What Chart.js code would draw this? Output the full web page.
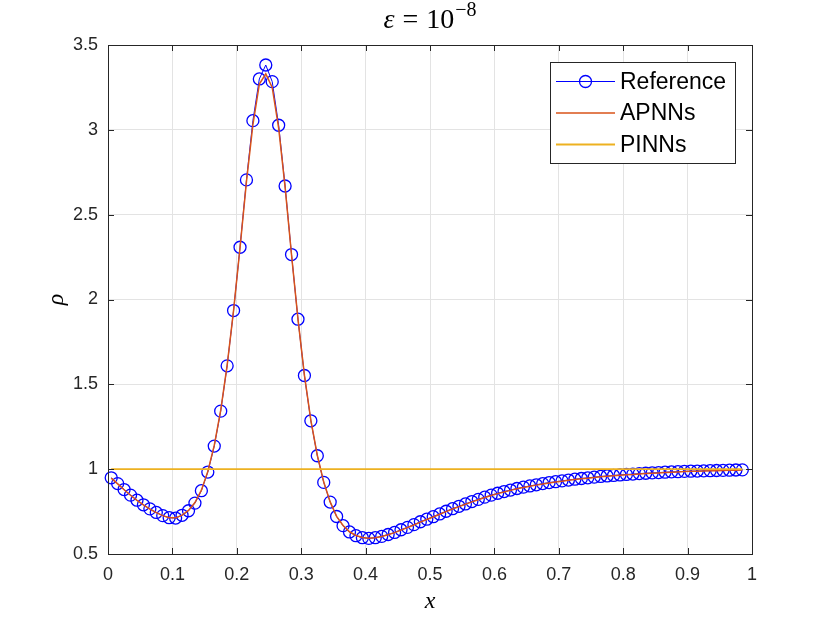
<!DOCTYPE html>
<html>
<head>
<meta charset="utf-8">
<script src="https://cdn.jsdelivr.net/npm/chart.js@4"></script>
<style>
    html, body { margin: 0; padding: 0; background: #fff; }
</style>
</head>
<body>
<canvas id="rhoChart" width="830" height="623"></canvas>
<script>
// grid points (cell centres)
var xGrid = [
    0.005, 0.015, 0.025, 0.035, 0.045, 0.055, 0.065, 0.075, 0.085, 0.095,
    0.105, 0.115, 0.125, 0.135, 0.145, 0.155, 0.165, 0.175, 0.185, 0.195,
    0.205, 0.215, 0.225, 0.235, 0.245, 0.255, 0.265, 0.275, 0.285, 0.295,
    0.305, 0.315, 0.325, 0.335, 0.345, 0.355, 0.365, 0.375, 0.385, 0.395,
    0.405, 0.415, 0.425, 0.435, 0.445, 0.455, 0.465, 0.475, 0.485, 0.495,
    0.505, 0.515, 0.525, 0.535, 0.545, 0.555, 0.565, 0.575, 0.585, 0.595,
    0.605, 0.615, 0.625, 0.635, 0.645, 0.655, 0.665, 0.675, 0.685, 0.695,
    0.705, 0.715, 0.725, 0.735, 0.745, 0.755, 0.765, 0.775, 0.785, 0.795,
    0.805, 0.815, 0.825, 0.835, 0.845, 0.855, 0.865, 0.875, 0.885, 0.895,
    0.905, 0.915, 0.925, 0.935, 0.945, 0.955, 0.965, 0.975, 0.985
];

var rhoReference = [
    0.949, 0.915, 0.880, 0.847, 0.817, 0.790, 0.766, 0.745, 0.726, 0.714,
    0.712, 0.728, 0.755, 0.800, 0.873, 0.983, 1.136, 1.342, 1.609, 1.935,
    2.308, 2.705, 3.054, 3.300, 3.382, 3.284, 3.027, 2.669, 2.265, 1.884,
    1.552, 1.285, 1.079, 0.922, 0.806, 0.721, 0.667, 0.630, 0.608, 0.596,
    0.592, 0.596, 0.604, 0.615, 0.627, 0.643, 0.657, 0.673, 0.690, 0.705,
    0.720, 0.736, 0.752, 0.767, 0.781, 0.795, 0.809, 0.822, 0.835, 0.847,
    0.858, 0.868, 0.877, 0.886, 0.894, 0.901, 0.908, 0.915, 0.921, 0.926,
    0.931, 0.936, 0.941, 0.945, 0.949, 0.953, 0.957, 0.960, 0.963, 0.966,
    0.969, 0.971, 0.974, 0.976, 0.978, 0.980, 0.982, 0.984, 0.985, 0.987,
    0.988, 0.989, 0.990, 0.991, 0.992, 0.993, 0.994, 0.995, 0.996
];

var rhoAPNNs = [
    0.947, 0.913, 0.879, 0.846, 0.816, 0.789, 0.765, 0.744, 0.726, 0.714,
    0.713, 0.729, 0.757, 0.803, 0.876, 0.987, 1.140, 1.346, 1.612, 1.936,
    2.305, 2.695, 3.030, 3.270, 3.330, 3.250, 3.010, 2.662, 2.262, 1.884,
    1.554, 1.288, 1.082, 0.924, 0.807, 0.722, 0.668, 0.631, 0.609, 0.597,
    0.593, 0.596, 0.603, 0.614, 0.626, 0.641, 0.656, 0.671, 0.688, 0.703,
    0.718, 0.734, 0.750, 0.765, 0.779, 0.793, 0.807, 0.820, 0.833, 0.845,
    0.856, 0.866, 0.875, 0.884, 0.892, 0.899, 0.906, 0.913, 0.919, 0.924,
    0.929, 0.934, 0.939, 0.943, 0.947, 0.951, 0.955, 0.958, 0.961, 0.964,
    0.967, 0.969, 0.972, 0.974, 0.976, 0.978, 0.980, 0.982, 0.984, 0.986,
    0.987, 0.988, 0.989, 0.990, 0.991, 0.992, 0.993, 0.994, 0.995
];

var xPINNs = [0.005, 0.985];
var rhoPINNs = [1.0, 1.0];

var seriesNames = ['Reference', 'APNNs', 'PINNs'];
var xTicks = [0, 0.1, 0.2, 0.3, 0.4, 0.5, 0.6, 0.7, 0.8, 0.9, 1];
var yTicks = [0.5, 1, 1.5, 2, 2.5, 3, 3.5];

var AXIS_COLOR = '#262626';
var SANS = "'Liberation Sans', Arial, sans-serif";
var SERIF = "'Liberation Serif', 'DejaVu Serif', serif";

function toPoints(xs, ys) {
    var pts = [];
    for (var i = 0; i < xs.length; i++) {
        pts.push({ x: xs[i], y: ys[i] });
    }
    return pts;
}

function plainLabel(value) {
    return String(value);
}

// MATLAB style box: ticks pointing inward on all four sides
var boxPlugin = {
    id: 'boxAxes',
    afterDraw: function(chart) {
        var ctx = chart.ctx;
        var area = chart.chartArea;
        var xs = chart.scales.x;
        var ys = chart.scales.y;
        var len = 6;
        ctx.save();
        ctx.strokeStyle = AXIS_COLOR;
        ctx.lineWidth = 1;
        ctx.beginPath();
        xTicks.forEach(function(v) {
            var px = Math.round(xs.getPixelForValue(v)) + 0.5;
            ctx.moveTo(px, area.bottom); ctx.lineTo(px, area.bottom - len);
            ctx.moveTo(px, area.top); ctx.lineTo(px, area.top + len);
        });
        yTicks.forEach(function(v) {
            var py = Math.round(ys.getPixelForValue(v)) + 0.5;
            ctx.moveTo(area.left, py); ctx.lineTo(area.left + len, py);
            ctx.moveTo(area.right, py); ctx.lineTo(area.right - len, py);
        });
        ctx.stroke();
        ctx.strokeRect(Math.round(area.left) + 0.5, Math.round(area.top) + 0.5,
            Math.round(area.right - area.left), Math.round(area.bottom - area.top));
        ctx.restore();
    }
};

// title with superscript exponent
var titlePlugin = {
    id: 'epsTitle',
    afterDraw: function(chart) {
        var ctx = chart.ctx;
        var area = chart.chartArea;
        var cx = (area.left + area.right) / 2;
        var base = 28;
        var parts = [
            { t: '\u03B5', f: 'italic 28px ' + SERIF, dy: 0, gap: 8 },
            { t: '=', f: '28px ' + SERIF, dy: 0, gap: 8 },
            { t: '10', f: '28px ' + SERIF, dy: 0, gap: 1 },
            { t: '\u22128', f: '20px ' + SERIF, dy: -12, gap: 0 }
        ];
        ctx.save();
        var total = 0;
        parts.forEach(function(p) {
            ctx.font = p.f;
            p.w = ctx.measureText(p.t).width;
            total += p.w + p.gap;
        });
        var x = cx - total / 2;
        ctx.fillStyle = '#000';
        ctx.textBaseline = 'alphabetic';
        parts.forEach(function(p) {
            ctx.font = p.f;
            ctx.fillText(p.t, x, base + p.dy);
            x += p.w + p.gap;
        });
        ctx.restore();
    }
};

// boxed legend in the upper right corner of the axes
var legendPlugin = {
    id: 'boxLegend',
    afterDraw: function(chart) {
        var ctx = chart.ctx;
        var left = 550, top = 62, width = 185, height = 101;
        var rowY = [81.5, 113, 144.5];
        ctx.save();
        ctx.fillStyle = '#fff';
        ctx.fillRect(left, top, width, height);
        ctx.strokeStyle = AXIS_COLOR;
        ctx.lineWidth = 1;
        ctx.strokeRect(left + 0.5, top + 0.5, width, height);
        chart.data.datasets.forEach(function(ds, i) {
            var y = rowY[i];
            ctx.strokeStyle = ds.borderColor;
            ctx.lineWidth = ds.borderWidth;
            ctx.beginPath();
            ctx.moveTo(556, y); ctx.lineTo(615, y);
            ctx.stroke();
            if (ds.pointRadius > 0) {
                ctx.lineWidth = ds.pointBorderWidth;
                ctx.beginPath();
                ctx.arc(585.5, y, ds.pointRadius, 0, Math.PI * 2);
                ctx.stroke();
            }
            ctx.fillStyle = '#000';
            ctx.font = '23px ' + SANS;
            ctx.textBaseline = 'middle';
            ctx.fillText(ds.label, 620, y + 1);
        });
        ctx.restore();
    }
};

new Chart(document.getElementById('rhoChart'), {
    type: 'scatter',
    data: {
        datasets: [{
            label: seriesNames[0],
            data: toPoints(xGrid, rhoReference),
            showLine: true,
            borderColor: '#0000ff',
            borderWidth: 1,
            pointRadius: 6,
            pointBorderWidth: 1.3,
            pointBorderColor: '#0000ff',
            pointBackgroundColor: 'rgba(0,0,0,0)',
            pointHoverRadius: 6,
            clip: false,
            order: 3
        }, {
            label: seriesNames[1],
            data: toPoints(xGrid, rhoAPNNs),
            showLine: true,
            borderColor: '#d95319',
            borderWidth: 1.5,
            pointRadius: 0,
            order: 2
        }, {
            label: seriesNames[2],
            data: toPoints(xPINNs, rhoPINNs),
            showLine: true,
            borderColor: '#edb120',
            borderWidth: 1.8,
            pointRadius: 0,
            order: 1
        }]
    },
    options: {
        responsive: false,
        animation: false,
        layout: { padding: { left: 0, right: 78, top: 45, bottom: 0 } },
        plugins: {
            legend: { display: false },
            tooltip: { enabled: false },
            title: { display: false }
        },
        scales: {
            x: {
                type: 'linear',
                min: 0,
                max: 1,
                afterFit: function(scale) { scale.height = 69; },
                afterBuildTicks: function(scale) {
                    scale.ticks = xTicks.map(function(v) { return { value: v }; });
                },
                ticks: {
                    color: AXIS_COLOR,
                    font: { family: SANS, size: 18 },
                    padding: 10,
                    maxRotation: 0,
                    callback: plainLabel
                },
                grid: { color: '#e3e3e3', drawTicks: false },
                border: { display: false },
                title: {
                    display: true,
                    text: 'x',
                    color: '#000',
                    font: { family: SERIF, size: 24, style: 'italic' },
                    padding: { top: 0, bottom: 7 }
                }
            },
            y: {
                type: 'linear',
                min: 0.5,
                max: 3.5,
                afterFit: function(scale) { scale.width = 108; },
                afterBuildTicks: function(scale) {
                    scale.ticks = yTicks.map(function(v) { return { value: v }; });
                },
                ticks: {
                    color: AXIS_COLOR,
                    font: { family: SANS, size: 18 },
                    padding: 10,
                    callback: plainLabel
                },
                grid: { color: '#e3e3e3', drawTicks: false },
                border: { display: false },
                title: {
                    display: true,
                    text: '\u03C1',
                    color: '#000',
                    font: { family: SERIF, size: 24, style: 'italic' },
                    padding: { top: 42, bottom: 0 }
                }
            }
        }
    },
    plugins: [boxPlugin, titlePlugin, legendPlugin]
});
</script>
</body>
</html>
